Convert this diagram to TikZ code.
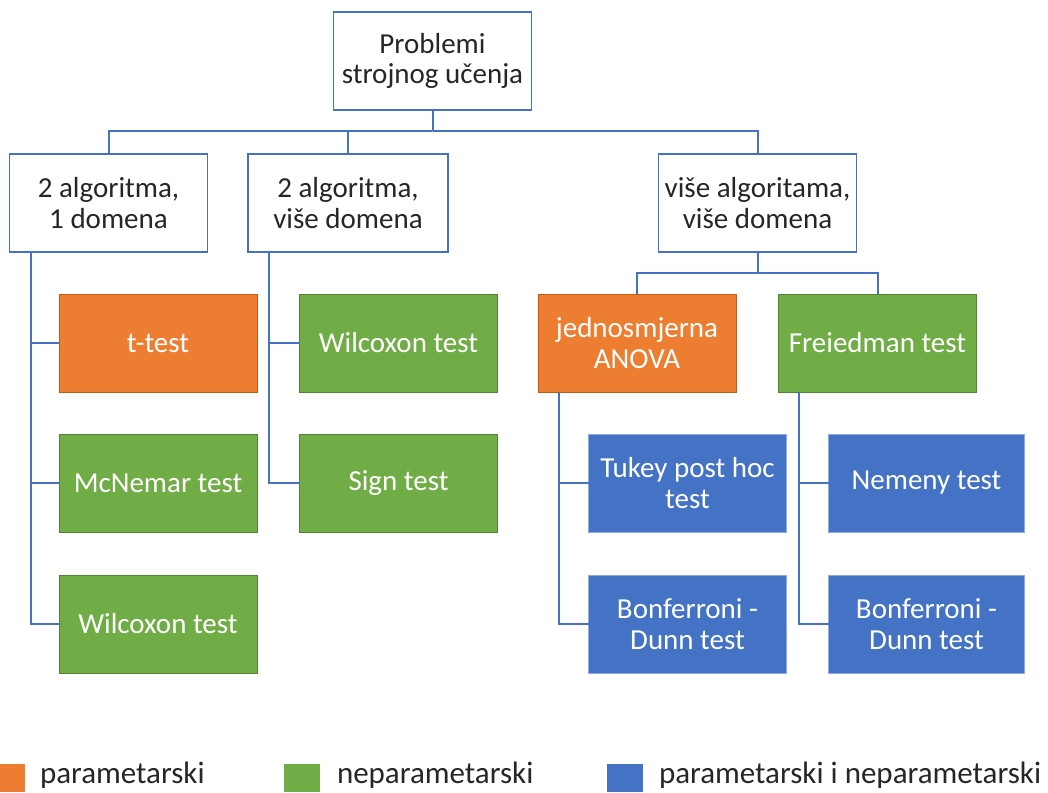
\documentclass[tikz,border=0pt]{standalone}
\usepackage{fontspec}
\setmainfont{Carlito}
\definecolor{obox}{HTML}{ED7D31}
\definecolor{oedge}{HTML}{C55A11}
\definecolor{gbox}{HTML}{70AD47}
\definecolor{gedge}{HTML}{548235}
\definecolor{bbox}{HTML}{4472C4}
\definecolor{bedge}{HTML}{8FAADC}
\definecolor{lnk}{HTML}{4472C4}
\definecolor{txt}{HTML}{262626}
\begin{document}
\begin{tikzpicture}[x=1pt,y=-1pt,
  every node/.style={inner sep=0pt, outer sep=0pt},
  base/.style={rectangle, minimum width=198pt, minimum height=98pt, align=center,
    font=\fontsize{29}{30.5}\selectfont, line width=1.8pt},
  whitebox/.style={base, draw=lnk, fill=white, text=txt},
  orangebox/.style={base, draw=oedge, line width=1pt, fill=obox, text=white},
  greenbox/.style={base, draw=gedge, line width=1pt, fill=gbox, text=white},
  bluebox/.style={base, draw=bedge, line width=1pt, fill=bbox, text=white},
  conn/.style={draw=lnk, line width=2pt},
  legsq/.style={rectangle, minimum width=36pt, minimum height=28pt},
  legtxt/.style={anchor=base west, font=\fontsize{31}{34}\selectfont, text=txt}]
\useasboundingbox (0,0) rectangle (1048,792);

% level 0
\node[whitebox] (root) at (432.5,61) {Problemi\\strojnog učenja};
% level 1
\node[whitebox] (a1) at (108.5,203) {2 algoritma,\\1 domena};
\node[whitebox, minimum width=200pt] (a2) at (348,203) {2 algoritma,\\više domena};
\node[whitebox] (a3) at (757.5,203) {više algoritama,\\više domena};

% children of a1
\node[orangebox] (t1) at (158,343) {t-test};
\node[greenbox] (t2) at (158,483) {McNemar test};
\node[greenbox] (t3) at (158,624) {Wilcoxon test};
% children of a2
\node[greenbox] (w1) at (398.5,343) {Wilcoxon test};
\node[greenbox] (w2) at (398.5,483) {Sign test};
% children of a3
\node[orangebox] (an) at (637,343) {jednosmjerna\\ANOVA};
\node[greenbox] (fr) at (877.5,343) {Freiedman test};
% grandchildren
\node[bluebox] (tk) at (687.5,483) {Tukey post hoc\\test};
\node[bluebox] (bd1) at (687.5,624) {Bonferroni -\\Dunn test};
\node[bluebox, minimum width=196pt] (nm) at (926.5,483) {Nemeny test};
\node[bluebox, minimum width=196pt] (bd2) at (926.5,624) {Bonferroni -\\Dunn test};

% connectors level 0 -> 1
\coordinate (bus) at (432.5,131);
\draw[conn] (root.south) -- (bus);
\draw[conn] (a1.north) |- (bus) -| (a2.north);
\draw[conn] (bus) -| (a3.north);

% a1 rail
\coordinate (r1) at (31,0);
\draw[conn] (a1.south -| r1) |- (t3.west);
\draw[conn] (r1 |- t1.west) -- (t1.west);
\draw[conn] (r1 |- t2.west) -- (t2.west);
% a2 rail
\coordinate (r2) at (269,0);
\draw[conn] (a2.south -| r2) |- (w2.west);
\draw[conn] (r2 |- w1.west) -- (w1.west);

% a3 -> an, fr
\coordinate (bus3) at (757.5,273);
\draw[conn] (a3.south) -- (bus3);
\draw[conn] (an.north) |- (bus3) -| (fr.north);

% an rail
\coordinate (r3) at (559,0);
\draw[conn] (an.south -| r3) |- (bd1.west);
\draw[conn] (r3 |- tk.west) -- (tk.west);
% fr rail
\coordinate (r4) at (799,0);
\draw[conn] (fr.south -| r4) |- (bd2.west);
\draw[conn] (r4 |- nm.west) -- (nm.west);

% legend
\node[legsq, fill=obox, minimum width=25pt, anchor=north west] (lo) at (0,764) {};
\node[legtxt] (lot) at (40,783) {parametarski};
\node[legsq, fill=gbox, anchor=north west] (lg) at (284,764) {};
\node[legtxt] (lgt) at (337,783) {neparametarski};
\node[legsq, fill=bbox, anchor=north west] (lb) at (607,764) {};
\node[legtxt] (lbt) at (659,783) {parametarski i neparametarski};
\end{tikzpicture}
\end{document}
